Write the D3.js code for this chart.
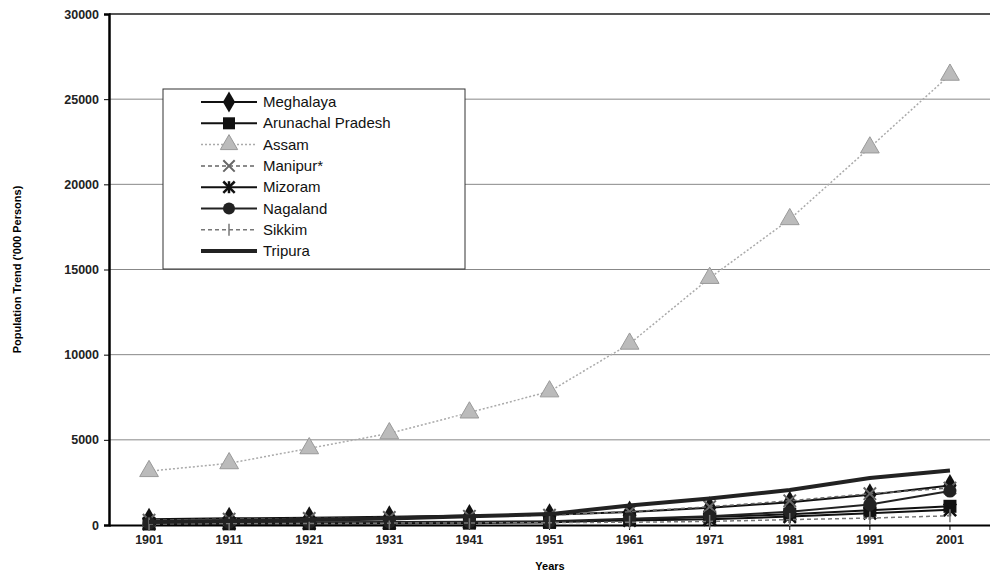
<!DOCTYPE html>
<html>
<head>
<meta charset="utf-8">
<script src="https://cdn.jsdelivr.net/npm/d3@7"></script>
<style>
body{margin:0;background:#fff;}
text{font-family:Arial,"Liberation Sans",sans-serif;}
</style>
</head>
<body>
<div id="canvas"></div>
<script>
// census years and state populations ('000 persons)
var years = ['1901','1911','1921','1931','1941','1951','1961','1971','1981','1991','2001'];
var meghalaya = [340,394,422,480,556,606,769,1012,1336,1775,2319];
var arunachal = [60,70,80,90,110,150,337,468,632,865,1098];
var assam = [3160,3620,4500,5380,6600,7840,10640,14500,17950,22160,26430];
var manipur = [284,346,384,446,512,578,780,1073,1421,1837,2167];
var mizoram = [82,91,98,124,153,196,266,332,494,690,889];
var nagaland = [102,149,159,179,190,213,369,516,775,1210,1990];
var sikkim = [59,88,82,110,122,138,162,210,316,406,541];
var tripura = [173,230,305,382,513,639,1142,1556,2053,2757,3199];
var yTicks = [0,5000,10000,15000,20000,25000,30000];

var series = [
    {name:'Meghalaya', v:meghalaya, color:'#111', width:2, dash:null, marker:'diamond'},
    {name:'Arunachal Pradesh', v:arunachal, color:'#111', width:2, dash:null, marker:'square'},
    {name:'Assam', v:assam, color:'#aaa', width:1.5, dash:'2,2', marker:'triangle'},
    {name:'Manipur*', v:manipur, color:'#666', width:1.5, dash:'4,3', marker:'x'},
    {name:'Mizoram', v:mizoram, color:'#111', width:2, dash:null, marker:'asterisk'},
    {name:'Nagaland', v:nagaland, color:'#222', width:2, dash:null, marker:'circle'},
    {name:'Sikkim', v:sikkim, color:'#777', width:1.5, dash:'4,3', marker:'plus'},
    {name:'Tripura', v:tripura, color:'#222', width:4, dash:null, marker:'none'}
];

var W = 990, H = 578;
var m = {t:14, r:0, b:53, l:109};

var svg = d3.select('#canvas').append('svg')
    .attr('width', W).attr('height', H);
var plot = svg.append('g')
    .attr('transform','translate('+m.l+','+m.t+')');
var w = W - m.l - m.r, h = H - m.t - m.b;

var x = d3.scaleBand().domain(years).range([0,w]);
var y = d3.scaleLinear().domain([0,30000]).range([h,0]);

// gridlines
plot.selectAll('.grid').data(yTicks.filter(function(d){return d>0;}))
    .enter().append('line').attr('class','grid')
    .attr('x1',0).attr('x2',w)
    .attr('y1',function(d){return y(d);}).attr('y2',function(d){return y(d);})
    .attr('stroke',function(d){return d==30000?'#555':'#888';})
    .attr('stroke-width',function(d){return d==30000?2:1;});

// axes
var yAxis = plot.append('g').call(d3.axisLeft(y).tickValues(yTicks).tickSize(5).tickFormat(d3.format('d')));
yAxis.select('.domain').attr('stroke','#000').attr('stroke-width',2.5);
yAxis.selectAll('text').attr('font-size',12.5).attr('font-weight','bold').attr('fill','#222').attr('dx',-2);

var xAxis = plot.append('g').attr('transform','translate(0,'+h+')')
    .call(d3.axisBottom(x).tickSize(5).tickSizeOuter(0));
xAxis.select('.domain').attr('stroke','#000').attr('stroke-width',2);
xAxis.selectAll('text').attr('font-size',12.5).attr('font-weight','bold').attr('fill','#222').attr('dy','0.9em');

svg.append('text').attr('x',550).attr('y',570).attr('text-anchor','middle')
    .attr('font-size',11).attr('font-weight','bold').text('Years');
svg.append('text').attr('transform','translate(21,'+(m.t+h/2)+') rotate(-90)')
    .attr('text-anchor','middle').attr('font-size',11).attr('font-weight','bold')
    .text("Population Trend ('000 Persons)");

function drawMarker(g, type, color, s){
    if(type=='diamond') g.append('path').attr('d',d3.symbol(d3.symbolDiamond, s*s*0.9)()).attr('fill',color);
    else if(type=='square') g.append('rect').attr('x',-s/2).attr('y',-s/2).attr('width',s).attr('height',s).attr('fill',color);
    else if(type=='triangle') g.append('path').attr('d',d3.symbol(d3.symbolTriangle, s*s*0.9)()).attr('fill','#bbb').attr('stroke','#999');
    else if(type=='circle') g.append('circle').attr('r',s/2).attr('fill',color);
    else if(type=='x') g.append('path').attr('d',d3.symbol(d3.symbolX, s*s*0.6)()).attr('fill','none').attr('stroke',color).attr('stroke-width',2);
    else if(type=='asterisk'){
        g.append('path').attr('d',d3.symbol(d3.symbolX, s*s*0.6)()).attr('fill','none').attr('stroke',color).attr('stroke-width',2.5);
        g.append('line').attr('x1',0).attr('x2',0).attr('y1',-s/2).attr('y2',s/2).attr('stroke',color).attr('stroke-width',2.5);
    }
    else if(type=='plus') g.append('line').attr('x1',0).attr('x2',0).attr('y1',-s/2).attr('y2',s/2).attr('stroke',color).attr('stroke-width',1.5);
}

var line = d3.line()
    .x(function(d,i){return x(years[i])+x.bandwidth()/2;})
    .y(function(d){return y(d);});

series.forEach(function(s){
    plot.append('path').datum(s.v)
        .attr('d',line).attr('fill','none')
        .attr('stroke',s.color).attr('stroke-width',s.width)
        .attr('stroke-dasharray',s.dash);
    s.v.forEach(function(d,i){
        var g = plot.append('g').attr('transform','translate('+(x(years[i])+x.bandwidth()/2)+','+y(d)+')');
        drawMarker(g, s.marker, s.color, 13);
    });
});

// legend
var leg = svg.append('g').attr('transform','translate(163,89)');
leg.append('rect').attr('width',302).attr('height',180).attr('fill','#fff').attr('stroke','#333').attr('stroke-width',1);
series.forEach(function(s,i){
    var g = leg.append('g').attr('transform','translate(0,'+(13+i*21.3)+')');
    g.append('line').attr('x1',38).attr('x2',94).attr('y1',0).attr('y2',0)
        .attr('stroke',s.color).attr('stroke-width',s.width).attr('stroke-dasharray',s.dash);
    drawMarker(g.append('g').attr('transform','translate(66,0)'), s.marker, s.color, 12);
    g.append('text').attr('x',100).attr('y',5).attr('font-size',15).attr('fill','#111').text(s.name);
});
</script>
</body>
</html>
